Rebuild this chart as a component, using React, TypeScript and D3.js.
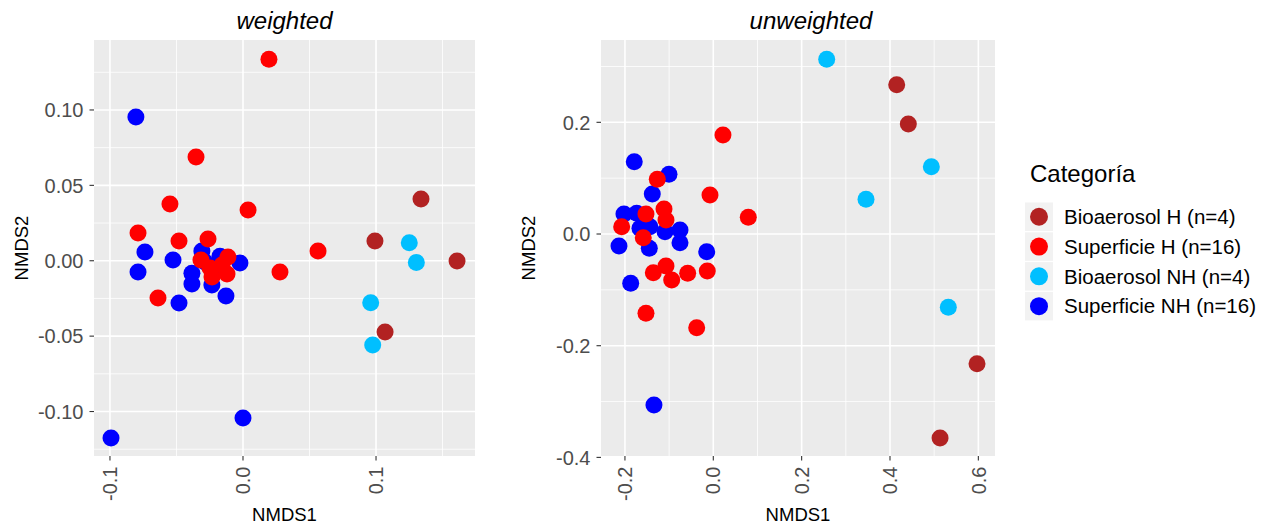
import React from 'react';
import * as d3 from 'd3';

const categories = ['Bioaerosol H (n=4)', 'Superficie H (n=16)', 'Bioaerosol NH (n=4)', 'Superficie NH (n=16)'];
const colors = ['#B22222', '#FF0000', '#00BFFF', '#0000FF'];
// draw order: blue, red, firebrick, skyblue
const drawOrder = [3, 1, 0, 2];

// weighted: [NMDS1, NMDS2] per category
const wBioH = [[0.1338, 0.0409], [0.0992, 0.0131], [0.1609, -0.0002], [0.1068, -0.0473]];
const wSupH = [
  [0.0195, 0.1336], [-0.0353, 0.0688], [-0.0549, 0.0376], [-0.0789, 0.0184],
  [-0.0481, 0.0131], [0.0038, 0.0336], [0.0564, 0.0064], [0.0278, -0.0075],
  [-0.0639, -0.0247], [-0.0263, 0.0144], [-0.0316, 0.0005], [-0.0113, 0.0025],
  [-0.0248, -0.0048], [-0.0158, -0.0029], [-0.0233, -0.0108], [-0.012, -0.0088],
];
const wBioNH = [[0.125, 0.0119], [0.1303, -0.0011], [0.096, -0.0279], [0.0975, -0.0559]];
const wSupNH = [
  [-0.0805, 0.0953], [-0.0737, 0.0058], [-0.0789, -0.0075], [-0.0526, 0.0005],
  [-0.0481, -0.028], [0.0, -0.1043], [-0.0992, -0.1176], [-0.0023, -0.0015],
  [-0.0309, 0.0064], [-0.0384, -0.0083], [-0.0384, -0.0155], [-0.0234, -0.0161],
  [-0.0128, -0.0234], [-0.0173, 0.0029], [-0.0286, -0.0008], [-0.0211, -0.0061],
];

// unweighted
const uBioH = [[0.4152, 0.2673], [0.4415, 0.197], [0.597, -0.2322], [0.5133, -0.3653]];
const uSupH = [
  [0.0219, 0.1773], [-0.0075, 0.0698], [0.0792, 0.0299], [-0.1268, 0.0979],
  [-0.1116, 0.0448], [-0.1524, 0.0358], [-0.1071, 0.0251], [-0.2074, 0.0131],
  [-0.1585, -0.0066], [-0.1358, -0.0693], [-0.1071, -0.0573], [-0.0942, -0.0824],
  [-0.058, -0.0704], [-0.0136, -0.0662], [-0.1524, -0.142], [-0.0376, -0.1678],
];
const uBioNH = [[0.2567, 0.3128], [0.4936, 0.1205], [0.3457, 0.0621], [0.532, -0.1312]];
const uSupNH = [
  [-0.1789, 0.1295], [-0.1003, 0.1069], [-0.1381, 0.0716], [-0.2022, 0.0358],
  [-0.1734, 0.0371], [-0.0754, 0.0072], [-0.0754, -0.0156], [-0.2135, -0.0215],
  [-0.1449, -0.0256], [-0.0149, -0.0317], [-0.187, -0.0883], [-0.1343, -0.3062],
  [-0.1093, 0.0041], [-0.166, 0.0102], [-0.1434, 0.0131], [-0.1551, 0.0251],
];

const wTicksX = [-0.1, 0.0, 0.1];
const wTicksY = [-0.1, -0.05, 0.0, 0.05, 0.1];
const uTicksX = [-0.2, 0.0, 0.2, 0.4, 0.6];
const uTicksY = [-0.4, -0.2, 0.0, 0.2];

const font = 'Liberation Sans, Arial, sans-serif';

function Panel({ title, titleX, left, right, xDomain, yDomain, xTicks, yTicks, xMinor, yMinor, xFmt, yFmt, series }) {
  const top = 40;
  const bottom = 456;
  const x = d3.scaleLinear().domain(xDomain).range([left, right]);
  const y = d3.scaleLinear().domain(yDomain).range([bottom, top]);
  return (
    <g>
      <rect x={left} y={top} width={right - left} height={bottom - top} fill="#EBEBEB" />
      {xMinor.map((v, i) => (
        <line key={'xm' + i} x1={x(v)} x2={x(v)} y1={top} y2={bottom} stroke="#fff" strokeWidth={0.8} />
      ))}
      {yMinor.map((v, i) => (
        <line key={'ym' + i} y1={y(v)} y2={y(v)} x1={left} x2={right} stroke="#fff" strokeWidth={0.8} />
      ))}
      {xTicks.map((v, i) => (
        <line key={'xg' + i} x1={x(v)} x2={x(v)} y1={top} y2={bottom} stroke="#fff" strokeWidth={1.6} />
      ))}
      {yTicks.map((v, i) => (
        <line key={'yg' + i} y1={y(v)} y2={y(v)} x1={left} x2={right} stroke="#fff" strokeWidth={1.6} />
      ))}
      {drawOrder.map(ci =>
        series[ci].map((d, j) => (
          <circle key={ci + '-' + j} cx={x(d[0])} cy={y(d[1])} r={8.5} fill={colors[ci]} />
        ))
      )}
      {/* axes */}
      {xTicks.map((v, i) => (
        <g key={'xt' + i} transform={`translate(${x(v)},${bottom})`}>
          <line y1={0} y2={4.5} stroke="#333" strokeWidth={1.1} />
          <text transform="rotate(-90)" x={-10.5} y={7.2} textAnchor="end" fontSize={20} fill="#4D4D4D" fontFamily={font}>
            {xFmt(v)}
          </text>
        </g>
      ))}
      {yTicks.map((v, i) => (
        <g key={'yt' + i} transform={`translate(${left},${y(v)})`}>
          <line x1={-4.5} x2={0} stroke="#333" strokeWidth={1.1} />
          <text x={-10.5} y={7.2} textAnchor="end" fontSize={20} fill="#4D4D4D" fontFamily={font}>
            {yFmt(v)}
          </text>
        </g>
      ))}
      <text x={(left + right) / 2} y={521} textAnchor="middle" fontSize={18.5} fontFamily={font} fill="#000">
        NMDS1
      </text>
      <text transform={`translate(${left - 66},${(top + bottom) / 2}) rotate(-90)`} textAnchor="middle" fontSize={18.5} fontFamily={font} fill="#000">
        NMDS2
      </text>
      <text x={titleX} y={29} textAnchor="middle" fontSize={24} fontStyle="italic" fontFamily={font} fill="#000">
        {title}
      </text>
    </g>
  );
}

export default function App() {
  const f1 = d3.format('.1f');
  const f2 = d3.format('.2f');
  const minus = s => s.replace('−', '-');
  return (
    <svg width={1270} height={525} style={{ position: 'absolute', left: 0, top: 0, background: '#fff' }}>
      <Panel
        title="weighted"
        titleX={284.5}
        left={94}
        right={475}
        xDomain={[-0.112, 0.1744]}
        yDomain={[-0.1295, 0.1464]}
        xTicks={wTicksX}
        yTicks={wTicksY}
        xMinor={[-0.05, 0.05, 0.15]}
        yMinor={[-0.125, -0.075, -0.025, 0.025, 0.075, 0.125]}
        xFmt={v => minus(f1(v))}
        yFmt={v => minus(f2(v))}
        series={[wBioH, wSupH, wBioNH, wSupNH]}
      />
      <Panel
        title="unweighted"
        titleX={811}
        left={601}
        right={995}
        xDomain={[-0.2542, 0.6377]}
        yDomain={[-0.3975, 0.3474]}
        xTicks={uTicksX}
        yTicks={uTicksY}
        xMinor={[-0.1, 0.1, 0.3, 0.5]}
        yMinor={[-0.3, -0.1, 0.1, 0.3]}
        xFmt={v => minus(f1(v))}
        yFmt={v => minus(f1(v))}
        series={[uBioH, uSupH, uBioNH, uSupNH]}
      />
      {/* legend */}
      <text x={1030} y={182} fontSize={24} fontFamily={font} fill="#000">Categoría</text>
      {categories.map((c, i) => (
        <g key={c} transform={`translate(1025,${202.5 + i * 29.8})`}>
          <rect width={28} height={28.5} fill="#F2F2F2" />
          <circle cx={14} cy={14.25} r={9} fill={colors[i]} />
          <text x={39} y={21.5} fontSize={20.5} fontFamily={font} fill="#000">{c}</text>
        </g>
      ))}
    </svg>
  );
}
